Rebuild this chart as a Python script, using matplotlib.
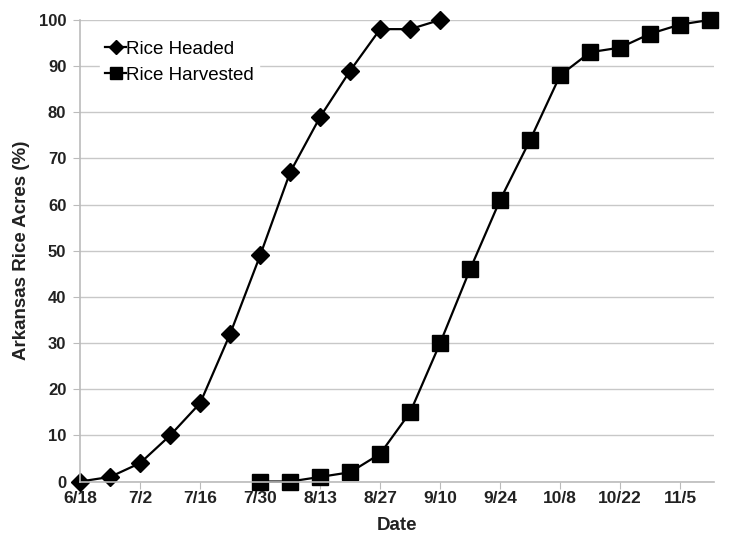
import matplotlib

matplotlib.use('Agg')
import matplotlib.pyplot as plt
import pandas as pd

plt.rcParams['font.family'] = ['Liberation Sans', 'DejaVu Sans']

# weekly survey dates and percentages
headed_dates = ['6/18', '6/25', '7/2', '7/9', '7/16', '7/23', '7/30', '8/6', '8/13',
                '8/20', '8/27', '9/3', '9/10']
headed_pct = [0, 1, 4, 10, 17, 32, 49, 67, 79, 89, 98, 98, 100]

harvested_dates = ['7/30', '8/6', '8/13', '8/20', '8/27', '9/3', '9/10', '9/17', '9/24',
                   '10/1', '10/8', '10/15', '10/22', '10/29', '11/5', '11/12']
harvested_pct = [0, 0, 1, 2, 6, 15, 30, 46, 61, 74, 88, 93, 94, 97, 99, 100]

tick_labels = ['6/18', '7/2', '7/16', '7/30', '8/13', '8/27', '9/10', '9/24',
               '10/8', '10/22', '11/5']


def to_dates(labels):
    return pd.to_datetime(['2012/' + s for s in labels], format='%Y/%m/%d')


fig, ax = plt.subplots(figsize=(7.29, 5.38), dpi=100)
fig.subplots_adjust(left=0.11, right=0.98, top=0.963, bottom=0.105)

ax.plot(to_dates(headed_dates), headed_pct, color='black', marker='D', markersize=9,
        linewidth=1.6, label='Rice Headed', clip_on=False)
ax.plot(to_dates(harvested_dates), harvested_pct, color='black', marker='s', markersize=12,
        linewidth=1.6, label='Rice Harvested', clip_on=False)

ticks = to_dates(tick_labels)
ax.set_xticks(ticks)
ax.set_xticklabels(tick_labels, fontweight='bold', fontsize=12.5, color='#222222')
ax.set_xlim(ticks[0], pd.Timestamp('2012-11-13'))
ax.set_ylim(0, 100)
ax.set_yticks(range(0, 101, 10))
for lab in ax.get_yticklabels():
    lab.set_fontweight('bold')
    lab.set_fontsize(12)
    lab.set_color('#222222')

ax.yaxis.grid(True, color='#c8c8c8', linewidth=1)
ax.set_axisbelow(True)
for side in ['top', 'right']:
    ax.spines[side].set_visible(False)
for side in ['left', 'bottom']:
    ax.spines[side].set_color('#bbbbbb')
    ax.spines[side].set_linewidth(1.2)
ax.tick_params(axis='x', length=5, color='#bbbbbb', pad=1.5)
ax.tick_params(axis='y', length=5, color='#bbbbbb', pad=5)

ax.set_xlabel('Date', fontweight='bold', fontsize=13.5, color='#222222', labelpad=8)
ax.set_ylabel('Arkansas Rice Acres (%)', fontweight='bold', fontsize=13.5, color='#222222',
              labelpad=6)

leg = ax.legend(loc='upper left', bbox_to_anchor=(0.025, 0.975), frameon=True, fontsize=13.5,
                handlelength=1.1, handletextpad=0.0, labelspacing=0.45, borderaxespad=0.2,
                borderpad=0.3, markerscale=0.75)
leg.get_frame().set_facecolor('white')
leg.get_frame().set_edgecolor('white')
leg.get_frame().set_alpha(1)

plt.savefig('out.png', dpi=100)
plt.close(fig)
